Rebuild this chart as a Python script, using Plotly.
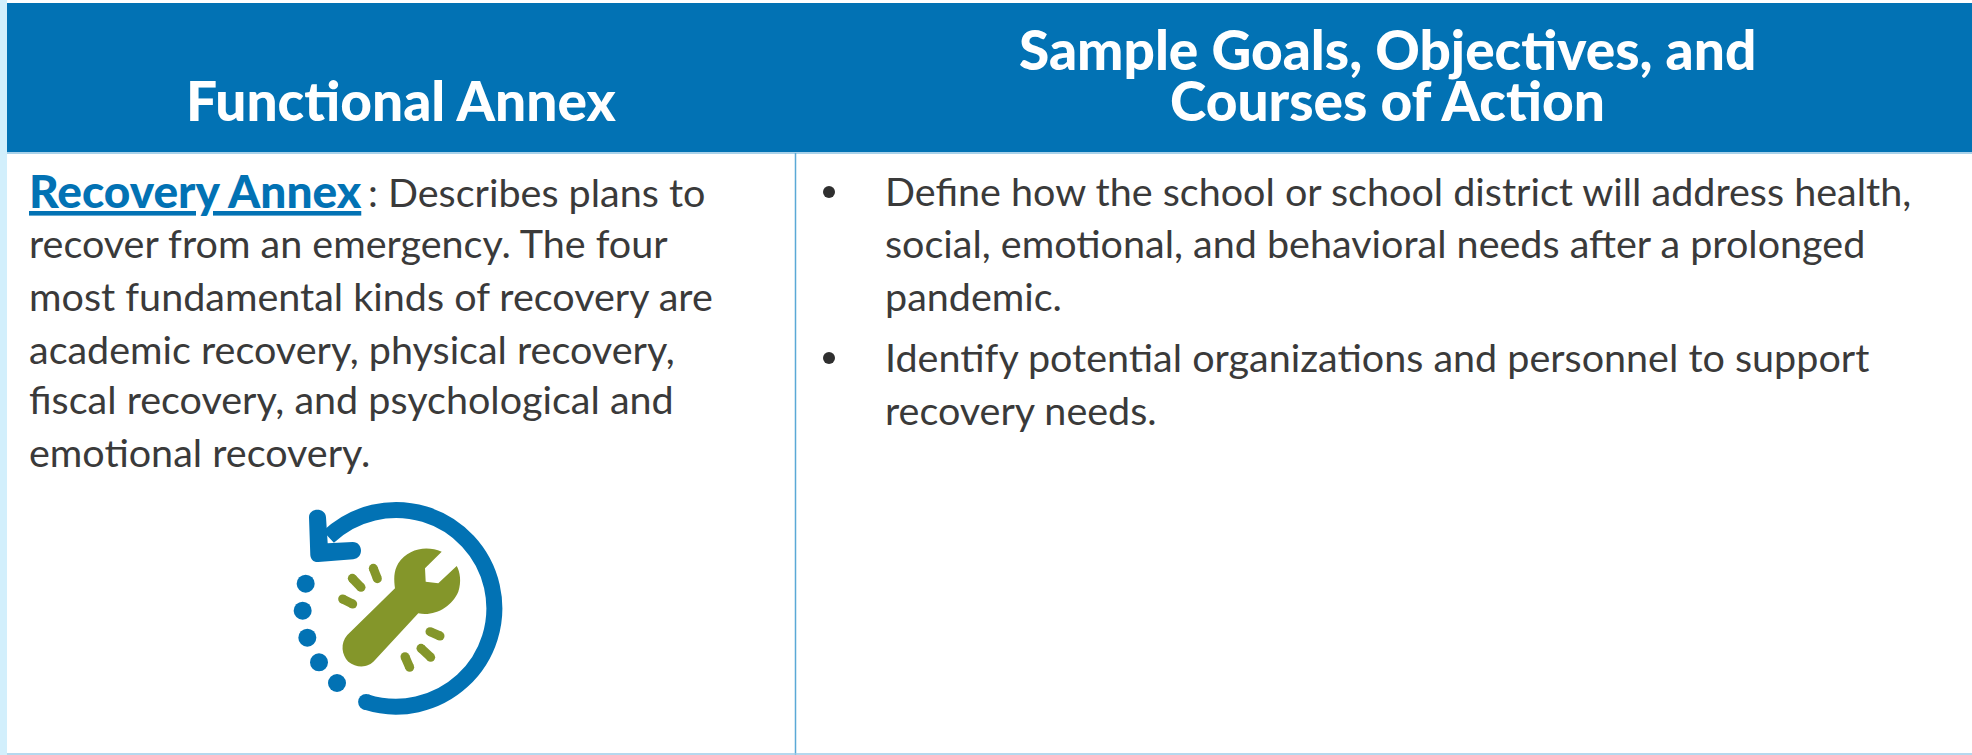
import math
import plotly.graph_objects as go

W, H = 1972, 755
BLUE = "#0272b4"
GREEN = "#84962a"
INK = "#3a3a3a"
RULE = "#5aa9d6"

header_left = "Functional Annex"
header_right = ["Sample Goals, Objectives, and", "Courses of Action"]
link_text = "Recovery Annex"
left_lines = [
    ": Describes plans to",
    "recover from an emergency. The four",
    "most fundamental kinds of recovery are",
    "academic recovery, physical recovery,",
    "fiscal recovery, and psychological and",
    "emotional recovery.",
]
left_x = [366, 27, 27, 27, 27, 27]
left_y = [191, 242, 295, 348, 398, 451]
right_lines = [
    "Define how the school or school district will address health,",
    "social, emotional, and behavioral needs after a prolonged",
    "pandemic.",
    "Identify potential organizations and personnel to support",
    "recovery needs.",
]
right_y = [190, 242, 295, 356, 409]
bullet_y = [192, 358]

# icon geometry, read in pixels of a 3x crop whose corner is (260, 480)
arc_centre = (408, 385)
arc_radius = 295
arc_start_deg = 107.7
arc_end_deg = -133.4
dots_x = [137, 128, 142, 177, 231]
dots_y = [311, 392, 473, 547, 609]
dashes = [
    ([340, 352], [265, 296]), ([277, 303], [295, 322]), ([248, 278], [357, 372]),
    ([510, 540], [455, 468]), ([483, 512], [505, 532]), ([435, 449], [530, 562]),
]

def zx(v):
    return 260 + v / 3

def zy(v):
    return 480 + v / 3

def P(a, b):
    return f"{zx(a):.1f},{zy(b):.1f}"

def arc_path():
    n = 4
    step = math.radians(arc_end_deg - arc_start_deg) / n
    k = 4 / 3 * math.tan(step / 4)
    cx, cy = arc_centre
    r = arc_radius
    a = math.radians(arc_start_deg)
    out = f"M{P(cx + r * math.cos(a), cy + r * math.sin(a))}"
    for _ in range(n):
        b = a + step
        c1 = (cx + r * (math.cos(a) - k * math.sin(a)), cy + r * (math.sin(a) + k * math.cos(a)))
        c2 = (cx + r * (math.cos(b) + k * math.sin(b)), cy + r * (math.sin(b) - k * math.cos(b)))
        e = (cx + r * math.cos(b), cy + r * math.sin(b))
        out += f" C{P(*c1)} {P(*c2)} {P(*e)}"
        a = b
    return out

fig = go.Figure()

start = math.radians(arc_start_deg)
fig.add_trace(go.Scatter(
    x=[zx(arc_centre[0] + arc_radius * math.cos(start))],
    y=[zy(arc_centre[1] + arc_radius * math.sin(start))],
    mode="markers", marker=dict(color=BLUE, size=16), hoverinfo="skip", showlegend=False,
))
fig.add_trace(go.Scatter(
    x=[zx(v) for v in dots_x], y=[zy(v) for v in dots_y], mode="markers",
    marker=dict(color=BLUE, size=18), hoverinfo="skip", showlegend=False,
))
for dx, dy in dashes:
    fig.add_trace(go.Scatter(
        x=[zx(v) for v in dx], y=[zy(v) for v in dy], mode="lines+markers",
        line=dict(color=GREEN, width=9), marker=dict(color=GREEN, size=9),
        hoverinfo="skip", showlegend=False,
    ))

wrench = (
    f"M{P(405,325)} L{P(262,465)} C{P(240,490)} {P(245,525)} {P(265,545)} "
    f"C{P(290,565)} {P(325,565)} {P(345,540)} L{P(475,400)} "
    f"C{P(525,410)} {P(575,380)} {P(595,335)} C{P(605,305)} {P(600,275)} {P(590,258)} "
    f"L{P(535,310)} L{P(497,305)} L{P(495,265)} L{P(545,215)} "
    f"C{P(500,195)} {P(445,205)} {P(415,250)} C{P(400,275)} {P(402,300)} {P(405,325)} Z"
)
arrow = (
    f"M{P(147,112)} C{P(147,82)} {P(197,82)} {P(198,112)} L{P(203,190)} L{P(278,186)} "
    f"C{P(310,186)} {P(312,234)} {P(280,238)} L{P(175,246)} "
    f"C{P(160,247)} {P(152,238)} {P(151,225)} Z"
)

shapes = [
    dict(type="rect", x0=0, x1=7, y0=0, y1=H, fillcolor="#d2effc", line_width=0, layer="below"),
    dict(type="rect", x0=7, x1=W, y0=3, y1=152, fillcolor=BLUE, line_width=0, layer="below"),
    dict(type="line", x0=7, x1=W, y0=153, y1=153, line=dict(color="#8cc3e3", width=1.5), layer="below"),
    dict(type="line", x0=795.5, x1=795.5, y0=153, y1=H, line=dict(color=RULE, width=1.5), layer="below"),
    dict(type="line", x0=7, x1=W, y0=754, y1=754, line=dict(color="#9ccbe8", width=1.5), layer="below"),
    dict(type="path", path=arc_path(), line=dict(color=BLUE, width=16), fillcolor="rgba(0,0,0,0)"),
    dict(type="path", path=arrow, fillcolor=BLUE, line_width=0),
    dict(type="path", path=wrench, fillcolor=GREEN, line_width=0),
]

annotations = []

def label(x, y, text, size, color, anchor="left", weight="normal"):
    annotations.append(dict(
        x=x, y=y, xref="x", yref="y", text=text, showarrow=False, xanchor=anchor, yanchor="middle",
        align=anchor, font=dict(family="Lato", size=size, color=color, weight=weight),
    ))

label(401, 100, header_left, 55, "white", "center", 900)
label(1387, 49, header_right[0], 55, "white", "center", 900)
label(1387, 100, header_right[1], 55, "white", "center", 900)
label(27, 190, f"<u>{link_text}</u>", 46, BLUE, "left", 900)
for text, x, y in zip(left_lines, left_x, left_y):
    label(x, y, text, 39.5, INK)
for text, y in zip(right_lines, right_y):
    label(883, y, text, 39.5, INK)
fig.add_trace(go.Scatter(
    x=[829] * len(bullet_y), y=bullet_y, mode="markers",
    marker=dict(color="#2f2f2f", size=12), hoverinfo="skip", showlegend=False,
))

fig.update_layout(
    width=W, height=H, margin=dict(l=0, r=0, t=0, b=0),
    paper_bgcolor="white", plot_bgcolor="white", showlegend=False,
    xaxis=dict(range=[0, W], visible=False, fixedrange=True),
    yaxis=dict(range=[H, 0], visible=False, fixedrange=True),
    shapes=shapes, annotations=annotations,
)
fig.write_html("out.html", config={"displayModeBar": False},
               post_script="document.body.style.margin='0';document.body.style.overflow='hidden';")
